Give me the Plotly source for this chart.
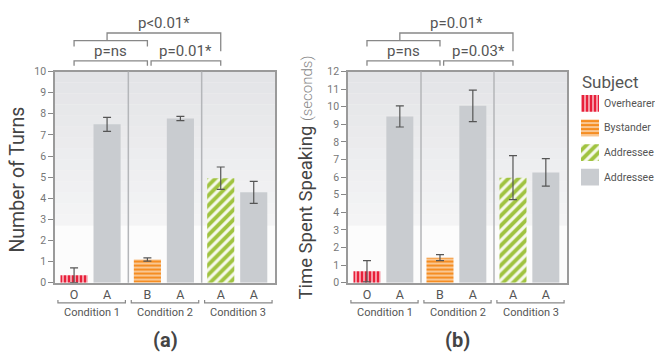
import plotly.graph_objects as go

W, H = 655, 362

# ---------------- data ----------------
conditions = ["Condition 1", "Condition 2", "Condition 3"]
bar_labels = ["O", "A", "B", "A", "A", "A"]
bar_condition = [0, 0, 1, 1, 2, 2]
bar_side = [0, 1, 0, 1, 0, 1]
bar_subject = ["overhearer", "addressee", "bystander", "addressee", "addressee_c3", "addressee"]

turns_mean = [0.35, 7.5, 1.1, 7.78, 4.95, 4.28]
turns_err = [0.35, 0.33, 0.08, 0.10, 0.53, 0.52]

time_mean = [0.65, 9.45, 1.42, 10.05, 5.97, 6.27]
time_err = [0.60, 0.60, 0.17, 0.90, 1.25, 0.78]

sig_a = ["p=ns", "p=0.01*", "p<0.01*"]
sig_b = ["p=ns", "p=0.03*", "p=0.01*"]

legend_title = "Subject"
panel_labels = ["(a)", "(b)"]
y_titles = ["Number of Turns", "Time Spent Speaking"]
y_title_suffix = ["", "(seconds)"]
y_max = [10, 12]

# ---------------- styling ----------------
FONT = "Roboto"
TXT = "#555555"
GRAY_BAR = "#c9ccd0"
styles = {
    "overhearer": dict(name="Overhearer", color="#e8253e",
                       pattern=dict(shape="|", size=4, solidity=0.7, fgcolor="#e8203a", bgcolor="#fde9ec", fgopacity=1)),
    "bystander": dict(name="Bystander", color="#f5922a",
                      pattern=dict(shape="-", size=4, solidity=0.7, fgcolor="#f58d22", bgcolor="#fdeedd", fgopacity=1)),
    "addressee_c3": dict(name="Addressee", color="#a9c94b",
                         pattern=dict(shape="/", size=7, solidity=0.55, fgcolor="#a0c340", bgcolor="#f6f9ec", fgopacity=1)),
    "addressee": dict(name="Addressee", color=GRAY_BAR, pattern=None),
}
legend_order = ["overhearer", "bystander", "addressee_c3", "addressee"]
OFFSETS = (-0.24, 0.21)
BAR_W = 0.37
xpos = [c + 0.5 + OFFSETS[s] for c, s in zip(bar_condition, bar_side)]

plot_px = [(55, 275), (348, 567)]
PY_TOP, PY_BOT = 68, 287


def px(p):
    return p / W


def py(p):
    return 1 - p / H


def marker_for(key):
    st = styles[key]
    m = dict(color=st["color"], line=dict(width=0))
    if st["pattern"]:
        m["pattern"] = st["pattern"]
    return m


fig = go.Figure()
panels = [(turns_mean, turns_err), (time_mean, time_err)]
for pi, (means, errs) in enumerate(panels):
    xa = "x" if pi == 0 else "x2"
    ya = "y" if pi == 0 else "y2"
    for key in legend_order:
        idx = [i for i, s in enumerate(bar_subject) if s == key]
        fig.add_trace(go.Bar(
            x=[xpos[i] for i in idx], y=[means[i] for i in idx],
            width=BAR_W, name=styles[key]["name"], marker=marker_for(key),
            error_y=dict(type="data", array=[errs[i] for i in idx], color="#555555",
                         thickness=1.2, width=4),
            showlegend=False, xaxis=xa, yaxis=ya, hoverinfo="skip",
        ))

# legend keys (drawn as swatches on their own small axis)
for row, key in enumerate(legend_order):
    fig.add_trace(go.Bar(
        x=[1], y=[row], orientation="h", width=0.68, base=0,
        marker=marker_for(key), showlegend=False, xaxis="x3", yaxis="y3", hoverinfo="skip",
    ))

axis_line = dict(showline=True, linecolor="#9a9a9a", linewidth=1.5, mirror=True,
                 showgrid=False, zeroline=False)
layout = dict(
    width=W, height=H, autosize=False,
    margin=dict(l=0, r=0, t=0, b=0),
    paper_bgcolor="white", plot_bgcolor="white",
    font=dict(family=FONT, color=TXT),
    barmode="overlay",
    showlegend=False,
)
for pi in range(2):
    sfx = "" if pi == 0 else "2"
    x0, x1 = plot_px[pi]
    layout["xaxis" + sfx] = dict(
        domain=[px(x0), px(x1)], range=[0, 3], tickvals=xpos, ticktext=bar_labels,
        ticks="", tickfont=dict(size=12.5, color=TXT), anchor="y" + sfx, fixedrange=True, **axis_line)
    layout["yaxis" + sfx] = dict(
        domain=[py(PY_BOT), py(PY_TOP)], range=[0, y_max[pi]], dtick=1, ticks="outside",
        ticklen=5, tickcolor="#888888", tickfont=dict(size=10.5, color="#777777"),
        anchor="x" + sfx, fixedrange=True, **axis_line)
# legend swatch axis: rows 25.5 px apart, first row centred at y=101
LEG_TOP, LEG_ROW = 101 - 12.75, 25.5
layout["xaxis3"] = dict(domain=[px(581), px(599)], range=[0, 1], visible=False, anchor="y3", fixedrange=True)
layout["yaxis3"] = dict(domain=[py(LEG_TOP + 4 * LEG_ROW), py(LEG_TOP)], range=[3.5, -0.5],
                        visible=False, anchor="x3", fixedrange=True)
fig.update_layout(**layout)

shapes = []
annotations = []
# background gradient bands
top_c = (0xe3, 0xe4, 0xe7)
bot_c = (0xf4, 0xf4, 0xf5)
band_bottom = (PY_BOT - 228) / (PY_BOT - PY_TOP)
N = 14
for pi in range(2):
    sfx = "" if pi == 0 else "2"
    shapes.append(dict(type="rect", xref="x" + sfx + " domain", yref="y" + sfx + " domain",
                       x0=0, x1=1, y0=0, y1=band_bottom, fillcolor="#fcfcfc", line_width=0, layer="below"))
    for k in range(N):
        t = k / (N - 1)
        c = tuple(round(top_c[j] + (bot_c[j] - top_c[j]) * t) for j in range(3))
        yb = 1 - (k + 1) * (1 - band_bottom) / N
        yt = 1 - k * (1 - band_bottom) / N
        shapes.append(dict(type="rect", xref="x" + sfx + " domain", yref="y" + sfx + " domain",
                           x0=0, x1=1, y0=yb, y1=yt + 0.002, fillcolor="rgb(%d,%d,%d)" % c,
                           line_width=0, layer="below"))
    # condition dividers
    for d in (1, 2):
        shapes.append(dict(type="line", xref="x" + sfx, yref="y" + sfx + " domain",
                           x0=d, x1=d, y0=0, y1=1, line=dict(color="#b4b6b9", width=1.5), layer="above"))
    # condition brackets and labels below
    for ci, cname in enumerate(conditions):
        a, b = ci + 0.04, ci + 0.96
        shapes.append(dict(type="path", xref="x" + sfx, yref="paper",
                           path="M %f,%f L %f,%f L %f,%f L %f,%f" % (a, py(305), a, py(308), b, py(308), b, py(305)),
                           line=dict(color="#888888", width=1.2)))
        annotations.append(dict(x=ci + 0.5, y=py(318), xref="x" + sfx, yref="paper", text=cname,
                                showarrow=False, font=dict(size=11, color=TXT), xanchor="center", yanchor="middle"))
    # significance brackets
    sig = sig_a if pi == 0 else sig_b
    l0, l1 = xpos[0], xpos[2]
    r0, r1 = xpos[2] + 0.05, xpos[4]
    mid = (l0 + l1) / 2 - 0.05

    def down_bracket(xa0, xa1, ytop, ybot, xref):
        return dict(type="path", xref=xref, yref="paper",
                    path="M %f,%f L %f,%f L %f,%f L %f,%f" % (xa0, py(ybot), xa0, py(ytop), xa1, py(ytop), xa1, py(ybot)),
                    line=dict(color="#888888", width=1.3))

    xr = "x" + sfx
    shapes.append(down_bracket(l0, l1, 57, 62, xr))
    shapes.append(down_bracket(r0, r1, 57, 62, xr))
    shapes.append(down_bracket(l0, l1, 36, 42, xr))
    shapes.append(dict(type="path", xref=xr, yref="paper",
                       path="M %f,%f L %f,%f L %f,%f L %f,%f" % (mid, py(36), mid, py(28), r1, py(28), r1, py(47)),
                       line=dict(color="#888888", width=1.3)))
    annotations.append(dict(x=(l0 + l1) / 2, y=py(47), xref=xr, yref="paper", text=sig[0], showarrow=False,
                            font=dict(size=15, color=TXT), xanchor="center", yanchor="middle"))
    annotations.append(dict(x=(r0 + r1) / 2, y=py(47), xref=xr, yref="paper", text=sig[1], showarrow=False,
                            font=dict(size=15, color=TXT), xanchor="center", yanchor="middle"))
    annotations.append(dict(x=(mid + r1) / 2, y=py(18), xref=xr, yref="paper", text=sig[2], showarrow=False,
                            font=dict(size=15, color=TXT), xanchor="center", yanchor="middle"))
    # panel label
    annotations.append(dict(x=1.5, y=py(346), xref=xr, yref="paper", text="<b>%s</b>" % panel_labels[pi],
                            showarrow=False, font=dict(size=20, color="#444444"), xanchor="center", yanchor="middle"))

# y axis titles
annotations.append(dict(x=px(18), y=py(180), xref="paper", yref="paper", text=y_titles[0], textangle=-90,
                        showarrow=False, font=dict(size=19.5, color="#444444"), xanchor="center", yanchor="middle"))
annotations.append(dict(x=px(306), y=py(178), xref="paper", yref="paper",
                        text="%s <span style='font-weight:300;color:#888888;font-size:15px'>%s</span>" % (y_titles[1], y_title_suffix[1]),
                        textangle=-90, showarrow=False, font=dict(size=18.5, color="#444444"),
                        xanchor="center", yanchor="middle"))
# legend title and labels
annotations.append(dict(x=px(580), y=py(79), xref="paper", yref="paper", text=legend_title, showarrow=False,
                        font=dict(size=17, color=TXT), xanchor="left", yanchor="middle"))
for row, key in enumerate(legend_order):
    annotations.append(dict(x=px(602), y=row, xref="paper", yref="y3", text=styles[key]["name"],
                            showarrow=False, font=dict(size=10.5, color=TXT),
                            xanchor="left", yanchor="middle"))

fig.update_layout(shapes=shapes, annotations=annotations)
fig.write_html("out.html", config={"displayModeBar": False},
               post_script="document.body.style.margin='0';document.body.style.overflow='hidden';")
